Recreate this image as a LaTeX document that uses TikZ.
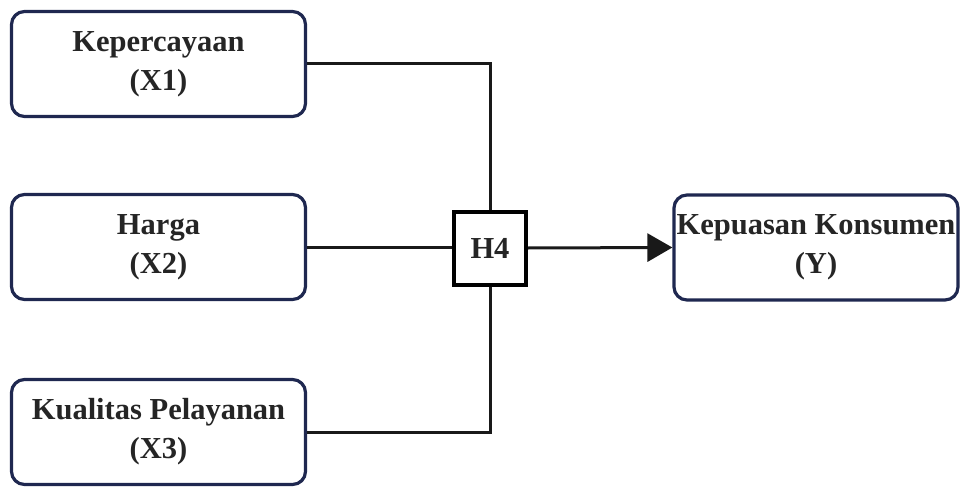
\documentclass[tikz,border=0pt]{standalone}
\usepackage{fontspec}
\setmainfont{Liberation Serif}
\usetikzlibrary{arrows.meta}
\definecolor{navy}{HTML}{1F2850}
\definecolor{txt}{HTML}{252525}
\tikzset{
  varbox/.style={draw=navy, line width=3.2pt, rounded corners=13pt, fill=white,
    minimum width=294pt, minimum height=105pt, align=center, inner sep=0pt,
    font=\fontsize{30.5}{39}\selectfont\bfseries, text=txt},
  hbox/.style={draw=black, line width=4pt, fill=white, minimum width=72pt, minimum height=73pt,
    inner sep=0pt, font=\fontsize{30.5}{39}\selectfont\bfseries, text=txt},
  conn/.style={line width=3pt, black!90}
}
\begin{document}
\begin{tikzpicture}[x=1pt,y=1pt]
\useasboundingbox (0,0) rectangle (960,488);
\node[varbox] (x1) at (158.5,424) {Kepercayaan\\(X1)};
\node[varbox] (x2) at (158.5,241) {Harga\\(X2)};
\node[varbox] (x3) at (158.5,56) {Kualitas Pelayanan\\(X3)};
\node[hbox] (h4) at (490,240) {H4};
\node[varbox, minimum width=284pt] (y) at (816,240.5) {Kepuasan Konsumen\\(Y)};
\draw[conn] (x1.east) -| (h4.north);
\draw[conn] (x2.east) -- (x2.east -| h4.west);
\draw[conn] (x3.east) -| (h4.south);
\draw[conn, -{Triangle[length=25pt,width=28pt]}] (h4.east) -- (y.west);
\end{tikzpicture}
\end{document}
